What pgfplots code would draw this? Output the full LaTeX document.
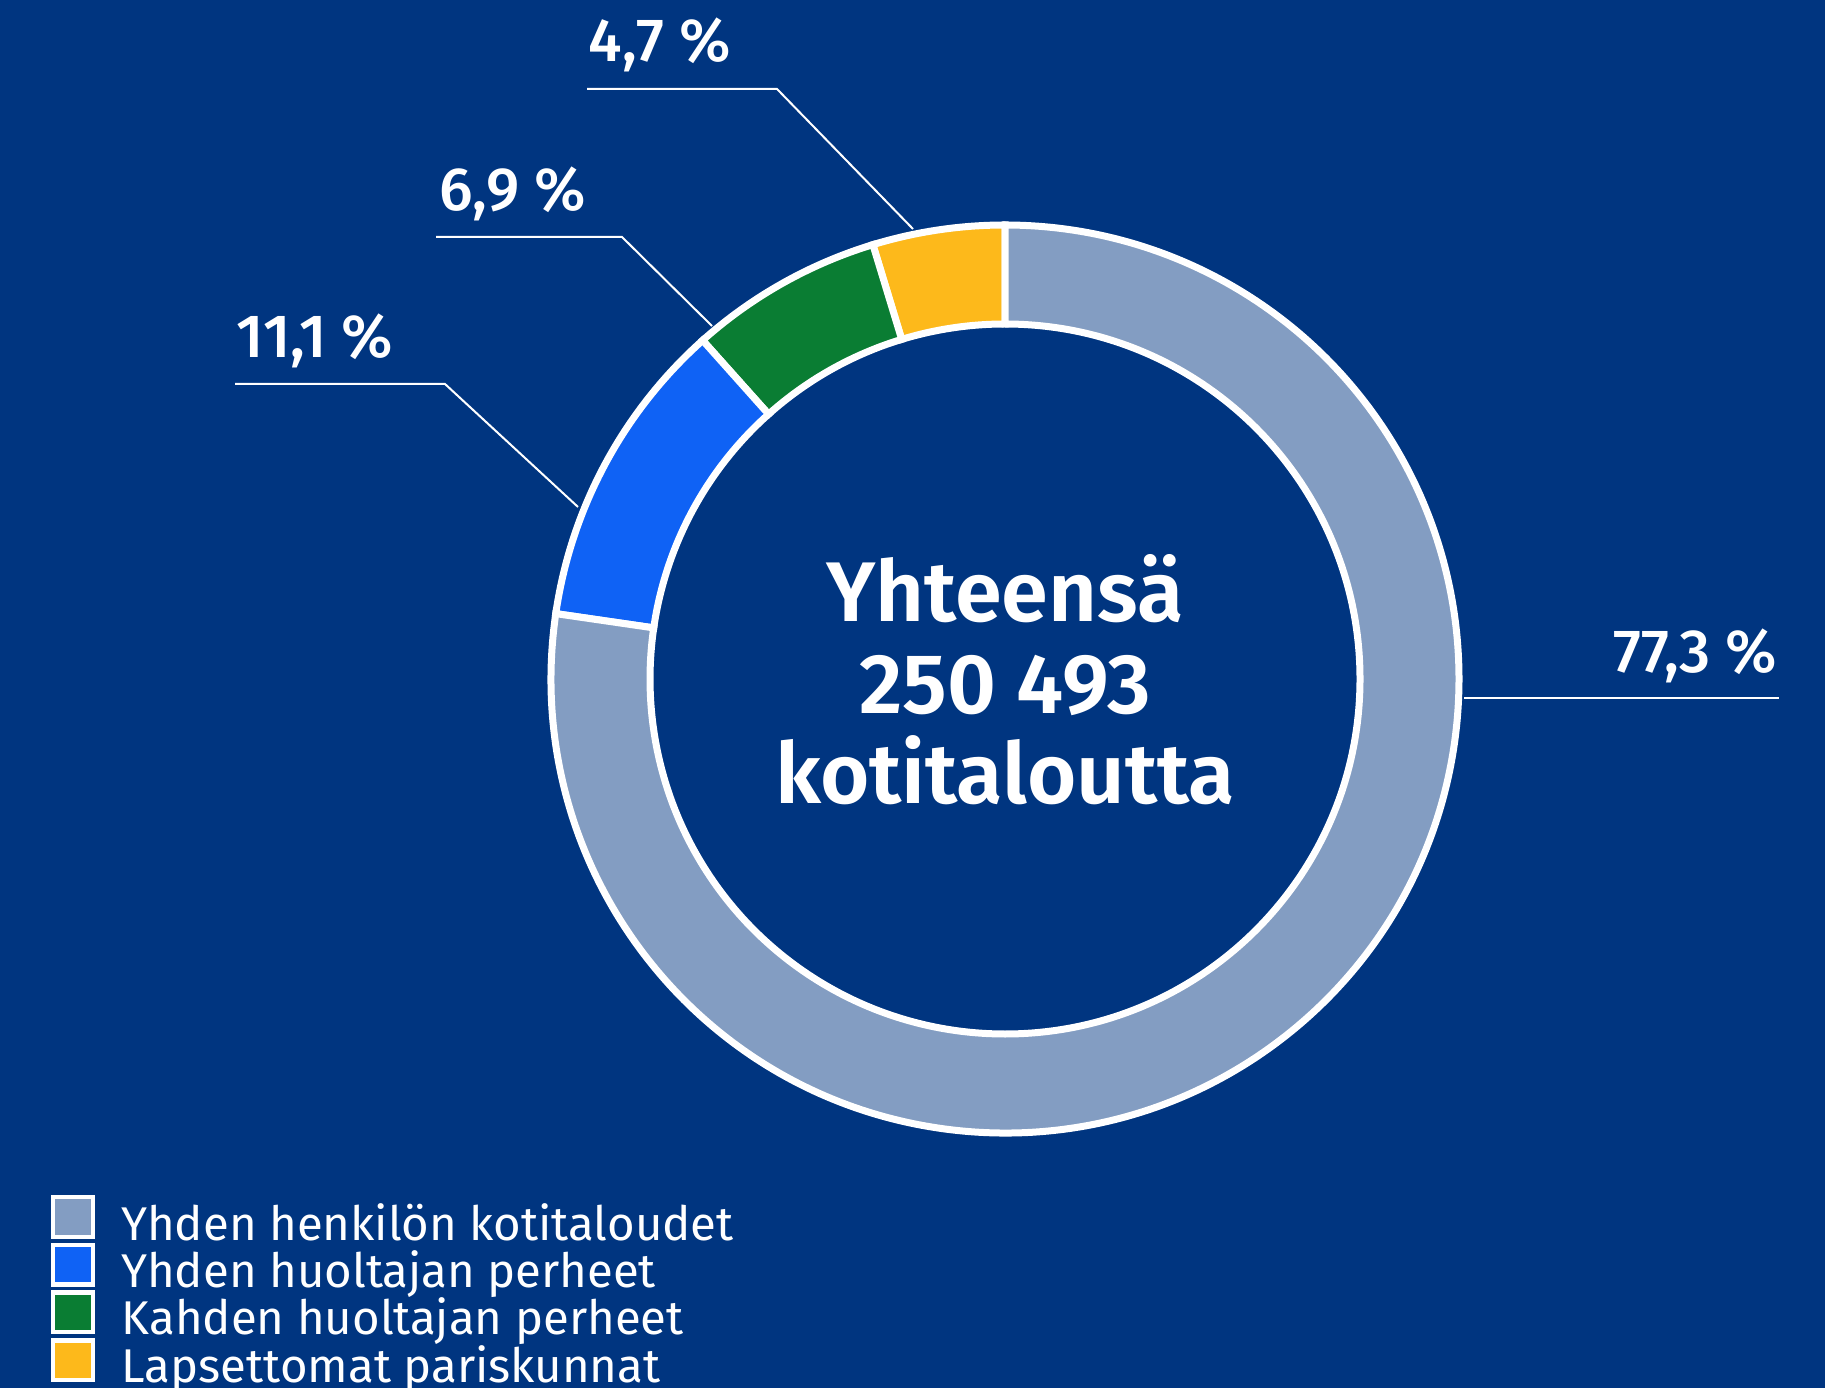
\documentclass[border=0pt]{standalone}
\usepackage{pgfplots}
\usepackage{pgfplotstable}
\pgfplotsset{compat=1.18}
\usepackage{fontspec}
\setmainfont{Fira Sans}
\newfontfamily\semifont{Fira Sans SemiBold}
\newfontfamily\medfont{Fira Sans Medium}
\definecolor{bgblue}{RGB}{0,53,128}
\definecolor{cgray}{RGB}{131,157,194}
\definecolor{cblue}{RGB}{15,98,245}
\definecolor{cgreen}{RGB}{10,125,51}
\definecolor{cyellow}{RGB}{253,185,27}
\pgfplotstableread{
name value
Lapsettomat 4.7
Kahden 6.9
YhdenHuolt 11.1
YhdenHenk 77.3
}\ringdata
\begin{document}
\begin{tikzpicture}
\pgfplotstablegetelem{0}{value}\of\ringdata \pgfmathsetmacro\vA{\pgfplotsretval}
\pgfplotstablegetelem{1}{value}\of\ringdata \pgfmathsetmacro\vB{\pgfplotsretval}
\pgfplotstablegetelem{2}{value}\of\ringdata \pgfmathsetmacro\vC{\pgfplotsretval}
\pgfplotstablegetelem{3}{value}\of\ringdata \pgfmathsetmacro\vD{\pgfplotsretval}
\pgfmathsetmacro\aA{90}
\pgfmathsetmacro\aB{\aA+3.6*\vA}
\pgfmathsetmacro\aC{\aB+3.6*\vB}
\pgfmathsetmacro\aD{\aC+3.6*\vC}
\pgfmathsetmacro\aE{\aD+3.6*\vD}
\def\Ro{136.2pt}% 454 px
\def\Ri{106.5pt}% 355 px
\def\Rd{-29.7pt}
\begin{axis}[name=ax, scale only axis, width=547.5pt, height=416.4pt,
  xmin=0, xmax=1825, ymin=0, ymax=1388, y dir=reverse, hide axis, clip=true]
\fill[bgblue] (axis cs:0,0) rectangle (axis cs:1825,1388);
% ring
\filldraw[fill=cyellow, draw=white, line width=2.1pt] (axis cs:1005,679) ++(\aA:\Ro) arc[start angle=\aA, end angle=\aB, radius=\Ro] -- ++(\aB:\Rd) arc[start angle=\aB, end angle=\aA, radius=\Ri] -- cycle;
\filldraw[fill=cgreen, draw=white, line width=2.1pt] (axis cs:1005,679) ++(\aB:\Ro) arc[start angle=\aB, end angle=\aC, radius=\Ro] -- ++(\aC:\Rd) arc[start angle=\aC, end angle=\aB, radius=\Ri] -- cycle;
\filldraw[fill=cblue, draw=white, line width=2.1pt] (axis cs:1005,679) ++(\aC:\Ro) arc[start angle=\aC, end angle=\aD, radius=\Ro] -- ++(\aD:\Rd) arc[start angle=\aD, end angle=\aC, radius=\Ri] -- cycle;
\filldraw[fill=cgray, draw=white, line width=2.1pt] (axis cs:1005,679) ++(\aD:\Ro) arc[start angle=\aD, end angle=\aE, radius=\Ro] -- ++(\aE:\Rd) arc[start angle=\aE, end angle=\aD, radius=\Ri] -- cycle;
% leader lines
\addplot[white, line width=0.6pt, mark=none] coordinates {(587,89) (777,89) (913,229)};
\addplot[white, line width=0.6pt, mark=none] coordinates {(436,237) (622,237) (712,326)};
\addplot[white, line width=0.6pt, mark=none] coordinates {(235,384) (445,384) (578,507)};
\addplot[white, line width=0.6pt, mark=none] coordinates {(1464,698) (1779,698)};
% percentage labels
\node[anchor=base west, inner sep=0pt, text=white, font=\fontsize{18.3pt}{20pt}\medfont] at (axis cs:588,62) {4,7 \%};
\node[anchor=base west, inner sep=0pt, text=white, font=\fontsize{18.3pt}{20pt}\medfont] at (axis cs:439,211) {6,9 \%};
\node[anchor=base west, inner sep=0pt, text=white, font=\fontsize{18.3pt}{20pt}\medfont] at (axis cs:236,358) {11,1 \%};
\node[anchor=base east, inner sep=0pt, text=white, font=\fontsize{18.3pt}{20pt}\medfont] at (axis cs:1778,673) {77,3 \%};
% centre text
\node[anchor=base, inner sep=0pt, text=white, font=\fontsize{25.4pt}{28pt}\semifont] at (axis cs:1005,622) {Yhteensä};
\node[anchor=base, inner sep=0pt, text=white, font=\fontsize{25.4pt}{28pt}\semifont] at (axis cs:1005,713) {250 493};
\node[anchor=base, inner sep=0pt, text=white, font=\fontsize{25.4pt}{28pt}\semifont] at (axis cs:1005,803) {kotitaloutta};
% legend
\filldraw[fill=cgray, draw=white, line width=1.35pt] (axis cs:53.2,1197.2) rectangle (axis cs:92.8,1236.8);
\filldraw[fill=cblue, draw=white, line width=1.35pt] (axis cs:53.2,1244.9) rectangle (axis cs:92.8,1284.5);
\filldraw[fill=cgreen, draw=white, line width=1.35pt] (axis cs:53.2,1292.6) rectangle (axis cs:92.8,1332.2);
\filldraw[fill=cyellow, draw=white, line width=1.35pt] (axis cs:53.2,1340.3) rectangle (axis cs:92.8,1379.9);
\node[anchor=base west, inner sep=0pt, text=white, font=\fontsize{14.2pt}{16pt}\selectfont] at (axis cs:121,1240) {Yhden henkilön kotitaloudet};
\node[anchor=base west, inner sep=0pt, text=white, font=\fontsize{14.2pt}{16pt}\selectfont] at (axis cs:121,1287) {Yhden huoltajan perheet};
\node[anchor=base west, inner sep=0pt, text=white, font=\fontsize{14.2pt}{16pt}\selectfont] at (axis cs:121,1334) {Kahden huoltajan perheet};
\node[anchor=base west, inner sep=0pt, text=white, font=\fontsize{14.2pt}{16pt}\selectfont] at (axis cs:121,1382) {Lapsettomat pariskunnat};
\end{axis}
\pgfresetboundingbox
\path (ax.south west) rectangle (ax.north east);
\end{tikzpicture}
\end{document}
